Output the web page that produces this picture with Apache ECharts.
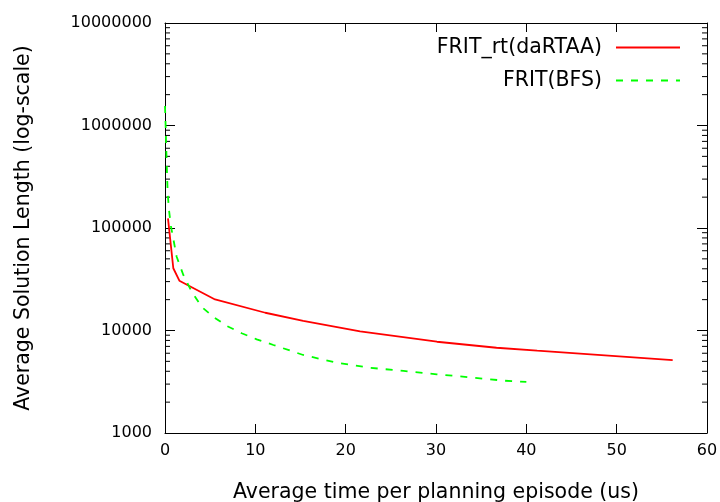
<!DOCTYPE html>
<html><head><meta charset="utf-8">
<script src="https://cdn.jsdelivr.net/npm/echarts@6/dist/echarts.min.js"></script>
<style>html,body{margin:0;padding:0;background:#fff}#c{width:720px;height:502px}</style>
</head><body><div id="c"></div>
<script>
var redName = 'FRIT_rt(daRTAA)';
var redX = [0.33, 0.92, 1.59, 5.54, 11.1, 15.3, 21.6, 30.1, 36.7, 41.2, 56.2];
var redY = [124000, 40500, 30600, 20100, 14900, 12400, 9800, 7770, 6790, 6350, 5150];
var greenName = 'FRIT(BFS)';
var greenX = [0, 0.07, 0.12, 0.18, 0.24, 0.3, 0.44, 0.65, 1.29, 2.03, 2.95, 4.06, 5.35, 6.83, 8.49, 10.15, 12, 15.3, 19, 22.7, 26.4, 30.1, 33.8, 37.5, 40];
var greenY = [1550000, 1000000, 670000, 457000, 305000, 218000, 150000, 105000, 52400, 34800, 24000, 17000, 13600, 11100, 9400, 8200, 7220, 5770, 4850, 4330, 4030, 3740, 3490, 3240, 3150];
var xTicks = [0, 10, 20, 30, 40, 50, 60];
var yTicks = [1000, 10000, 100000, 1000000, 10000000];

var minorTicks = [];
for (var d = 3; d < 7; d++) for (var k = 2; k <= 9; k++) minorTicks.push(k * Math.pow(10, d));

var font = 'DejaVu Sans';
var bigFont = 20.5;
var chart = echarts.init(document.getElementById('c'));
function pairs(xs, ys){ return xs.map(function(x,i){return [x, ys[i]];}); }
chart.setOption({
  animation: false,
  backgroundColor: '#fff',
  textStyle: {fontFamily: font},
  grid: {left: 165, right: 13, top: 23, bottom: 69, containLabel: false, outerBoundsMode: 'none'},
  legend: {
    right: 34, top: 32, orient: 'vertical', align: 'right',
    itemWidth: 64, itemHeight: 20, itemGap: 12,
    itemStyle: {color: 'rgba(0,0,0,0)', borderWidth: 0, opacity: 0},
    textStyle: {fontFamily: font, fontSize: bigFont, color: '#000', padding: [0, 9, 0, 0]},
    data: [redName, greenName]
  },
  xAxis: [{
    type: 'value', min: 0, max: 60, interval: 10, position: 'bottom',
    name: 'Average time per planning episode (us)', nameLocation: 'middle', nameGap: 49,
    nameTextStyle: {fontFamily: font, fontSize: bigFont, color: '#000'},
    axisLine: {onZero: false, lineStyle: {color: '#000', width: 1}},
    axisTick: {inside: true, length: 9, lineStyle: {color: '#000'}},
    axisLabel: {fontFamily: font, fontSize: 16, color: '#000', margin: 10},
    splitLine: {show: false}
  }, {
    type: 'value', min: 0, max: 60, interval: 10, position: 'top',
    axisLine: {show: true, onZero: false, lineStyle: {color: '#000', width: 1}},
    axisTick: {show: true, inside: true, length: 9, lineStyle: {color: '#000'}},
    axisLabel: {show: false}, splitLine: {show: false}
  }],
  yAxis: [{
    type: 'log', logBase: 10, min: 1000, max: 10000000, position: 'left',
    name: 'Average Solution Length (log-scale)', nameLocation: 'middle', nameGap: 131,
    nameTextStyle: {fontFamily: font, fontSize: bigFont, color: '#000'},
    axisLine: {show: true, onZero: false, lineStyle: {color: '#000', width: 1}},
    axisTick: {show: true, inside: true, length: 10, lineStyle: {color: '#000'}},
    axisLabel: {fontFamily: font, fontSize: 16, color: '#000', margin: 13,
      formatter: function(v){ return String(Math.round(v)); }},
    splitLine: {show: false}, minorTick: {show: false}
  }, {
    type: 'log', logBase: 10, min: 1000, max: 10000000, position: 'right',
    axisLine: {show: true, onZero: false, lineStyle: {color: '#000', width: 1}},
    axisTick: {show: true, inside: true, length: 10, lineStyle: {color: '#000'}},
    axisLabel: {show: false}, splitLine: {show: false}
  }],
  series: [{
    name: redName, type: 'line', xAxisIndex: 0, yAxisIndex: 0,
    data: pairs(redX, redY), symbol: 'none', showSymbol: false,
    lineStyle: {color: '#ff0000', width: 1.8}, itemStyle: {color: '#ff0000'}
  }, {
    name: greenName, type: 'line', xAxisIndex: 0, yAxisIndex: 0,
    data: pairs(greenX, greenY), symbol: 'none', showSymbol: false,
    lineStyle: {color: '#00ff00', width: 1.8, type: [7, 8]}, itemStyle: {color: '#00ff00'}
  }, {
    type: 'line', xAxisIndex: 1, yAxisIndex: 1, data: [], silent: true
  }, {
    type: 'custom', xAxisIndex: 0, yAxisIndex: 0, silent: true,
    data: minorTicks.map(function(v){ return [0, v]; }),
    renderItem: function(params, api){
      var p = api.coord([0, api.value(1)]);
      var cs = params.coordSys;
      var xl = cs.x, xr = cs.x + cs.width;
      return {type: 'group', children: [
        {type: 'line', shape: {x1: xl, y1: p[1], x2: xl + 5, y2: p[1]}, style: {stroke: '#000', lineWidth: 1}},
        {type: 'line', shape: {x1: xr - 5, y1: p[1], x2: xr, y2: p[1]}, style: {stroke: '#000', lineWidth: 1}}
      ]};
    }
  }]
});
</script></body></html>
